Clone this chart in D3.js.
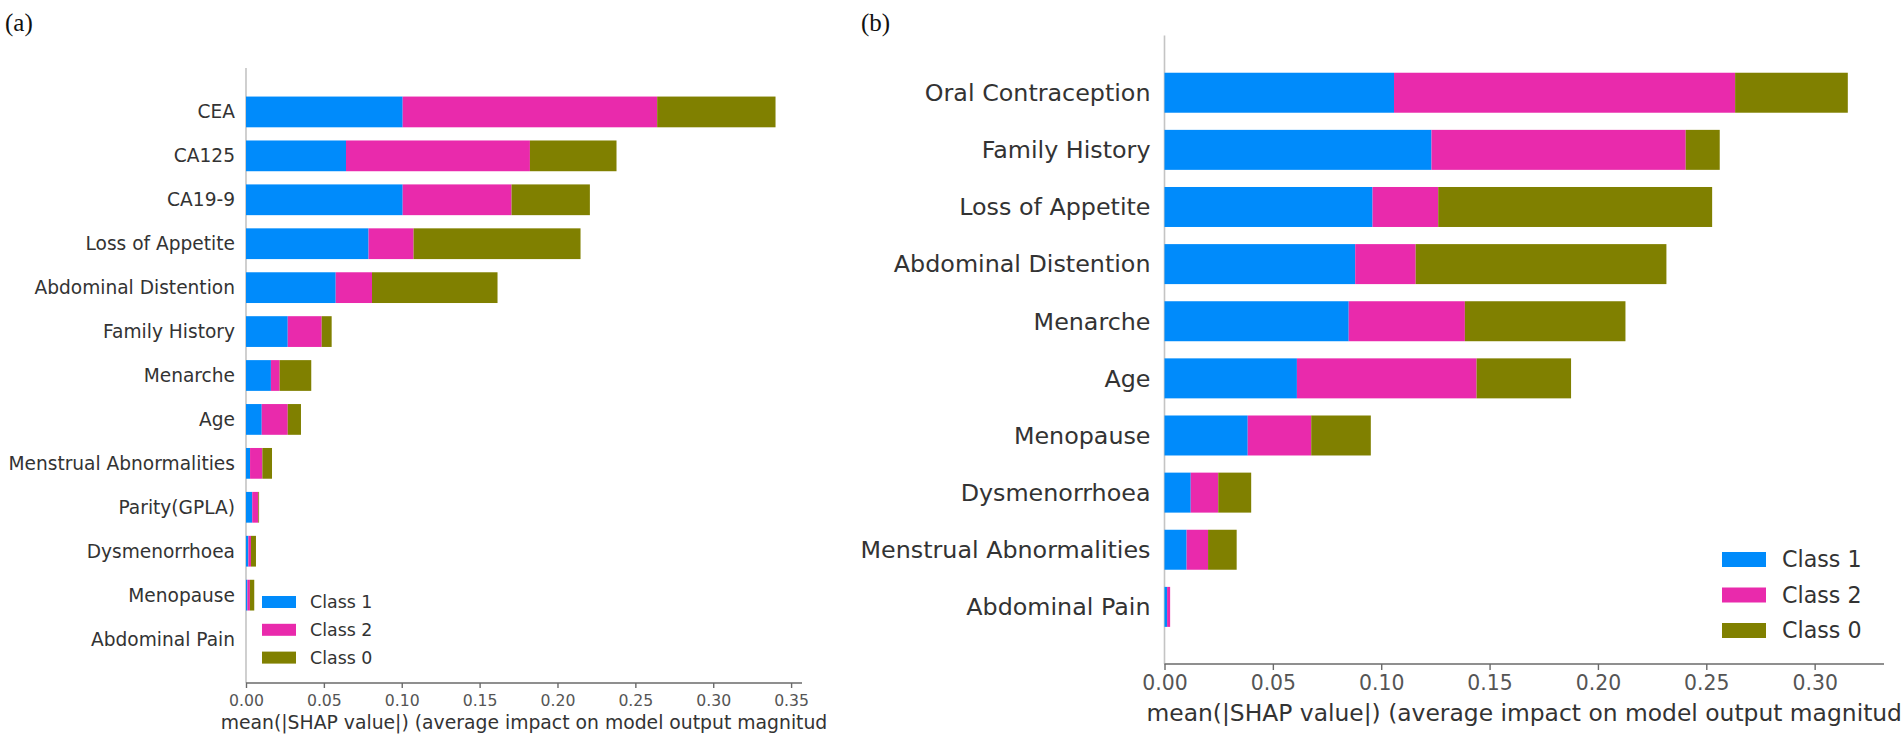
<!DOCTYPE html>
<html>
<head>
<meta charset="utf-8">
<script src="https://cdn.jsdelivr.net/npm/d3@7"></script>
<style>
  html, body { margin: 0; padding: 0; background: #fff; }
  svg { display: block; font-family: "DejaVu Sans", sans-serif; }
</style>
</head>
<body>
<svg id="chart" width="1904" height="742"></svg>
<script>
// panel (a) values
const featuresA = ["CEA", "CA125", "CA19-9", "Loss of Appetite", "Abdominal Distention",
  "Family History", "Menarche", "Age", "Menstrual Abnormalities", "Parity(GPLA)",
  "Dysmenorrhoea", "Menopause", "Abdominal Pain"];
const class1A = [0.1006, 0.0642, 0.1006, 0.0787, 0.0576, 0.0268, 0.0160, 0.0101, 0.0026, 0.0040, 0.0015, 0.0009, 0.0000];
const class2A = [0.1634, 0.1181, 0.0699, 0.0289, 0.0233, 0.0218, 0.0056, 0.0167, 0.0079, 0.0039, 0.0017, 0.0016, 0.0000];
const class0A = [0.0760, 0.0556, 0.0503, 0.1072, 0.0806, 0.0064, 0.0203, 0.0085, 0.0062, 0.0005, 0.0032, 0.0028, 0.0000];
const ticksA = [0, 0.05, 0.10, 0.15, 0.20, 0.25, 0.30, 0.35];

// panel (b) values
const featuresB = ["Oral Contraception", "Family History", "Loss of Appetite", "Abdominal Distention",
  "Menarche", "Age", "Menopause", "Dysmenorrhoea", "Menstrual Abnormalities", "Abdominal Pain"];
const class1B = [0.1059, 0.1232, 0.0960, 0.0880, 0.0850, 0.0611, 0.0384, 0.0121, 0.0102, 0.0012];
const class2B = [0.1574, 0.1173, 0.0303, 0.0279, 0.0536, 0.0829, 0.0293, 0.0127, 0.0099, 0.0014];
const class0B = [0.0520, 0.0157, 0.1264, 0.1157, 0.0741, 0.0436, 0.0275, 0.0152, 0.0132, 0.0000];
const ticksB = [0, 0.05, 0.10, 0.15, 0.20, 0.25, 0.30];

const classNames = ["Class 1", "Class 2", "Class 0"];
const classColors = ["#008bfb", "#e92aac", "#808000"];
const xTitle = "mean(|SHAP value|) (average impact on model output magnitud";

const svg = d3.select("#chart");

function drawPanel(opt) {
  const g = svg.append("g");
  const n = opt.features.length;

  const x = d3.scaleLinear().domain([0, opt.xmax]).range([opt.left, opt.right]);
  const y = d3.scaleLinear().domain([-1, n]).range([opt.top, opt.bottom]);
  const step = y(1) - y(0);
  const bh = step * 0.7;

  // stacked rows
  const rows = opt.features.map((f, i) => ({ f: f, i: i, v: [opt.c1[i], opt.c2[i], opt.c0[i]] }));
  const stack = d3.stack().keys([0, 1, 2]).value((d, k) => d.v[k]);
  const series = stack(rows);

  // vertical zero line
  g.append("line")
    .attr("x1", x(0)).attr("x2", x(0))
    .attr("y1", opt.top).attr("y2", opt.bottom)
    .attr("stroke", "#c4c4c4").attr("stroke-width", 1.6);

  series.forEach((s, k) => {
    g.append("g").selectAll("rect")
      .data(s)
      .join("rect")
      .attr("x", d => x(d[0]))
      .attr("width", d => Math.max(0, x(d[1]) - x(d[0])))
      .attr("y", d => y(d.data.i) - bh / 2)
      .attr("height", bh)
      .attr("fill", classColors[k]);
  });

  // feature names
  g.append("g").selectAll("text")
    .data(opt.features)
    .join("text")
    .attr("x", x(0) - opt.labelPad)
    .attr("y", (d, i) => y(i))
    .attr("dy", "0.35em")
    .attr("text-anchor", "end")
    .attr("font-size", opt.labelSize)
    .attr("fill", "#333")
    .text(d => d);

  // x axis
  const ax = g.append("g")
    .attr("transform", `translate(0,${opt.bottom})`)
    .call(d3.axisBottom(x).tickValues(opt.ticks).tickFormat(d3.format(".2f"))
      .tickSize(opt.tickLen).tickPadding(opt.tickPad).tickSizeOuter(0));
  ax.select(".domain").attr("stroke", "#6a6a6a").attr("stroke-width", 1.6)
    .attr("d", `M${x(0)},0H${opt.right}`);
  ax.selectAll(".tick line").attr("stroke", "#6a6a6a").attr("stroke-width", 1.4);
  ax.selectAll(".tick text").attr("font-size", opt.tickSize).attr("fill", "#555")
    .attr("font-family", "DejaVu Sans, sans-serif");

  g.append("text")
    .attr("x", (opt.left + opt.right) / 2)
    .attr("y", opt.titleY)
    .attr("text-anchor", "middle")
    .attr("font-size", opt.titleSize)
    .attr("fill", "#333")
    .text(xTitle);

  // legend
  const lg = g.append("g");
  classNames.forEach((c, k) => {
    const cy = opt.legY + k * opt.legStep;
    lg.append("rect")
      .attr("x", opt.legX).attr("y", cy - opt.legH / 2)
      .attr("width", opt.legW).attr("height", opt.legH)
      .attr("fill", classColors[k]);
    lg.append("text")
      .attr("x", opt.legX + opt.legW + opt.legGap)
      .attr("y", cy).attr("dy", "0.35em")
      .attr("font-size", opt.legSize)
      .attr("fill", "#333")
      .text(c);
  });

  svg.append("text")
    .attr("x", opt.tagX).attr("y", 31)
    .attr("font-family", "Liberation Serif, Times New Roman, serif")
    .attr("font-size", 25)
    .attr("fill", "#111")
    .text(opt.tag);
}

drawPanel({
  tag: "(a)", tagX: 5,
  features: featuresA, c1: class1A, c2: class2A, c0: class0A, ticks: ticksA,
  xmax: 0.357, left: 246, right: 802, top: 68, bottom: 683,
  labelSize: 18.6, labelPad: 11, tickSize: 15.7, tickLen: 5, tickPad: 6.5,
  titleSize: 18.8, titleY: 729,
  legX: 262, legY: 602, legStep: 27.8, legW: 34, legH: 12, legGap: 14, legSize: 17.4
});

drawPanel({
  tag: "(b)", tagX: 861,
  features: featuresB, c1: class1B, c2: class2B, c0: class0B, ticks: ticksB,
  xmax: 0.332, left: 1164.5, right: 1884, top: 35.6, bottom: 664,
  labelSize: 23.8, labelPad: 14, tickSize: 20.4, tickLen: 6, tickPad: 6,
  titleSize: 23.4, titleY: 721,
  legX: 1722, legY: 559.5, legStep: 35.5, legW: 44, legH: 15, legGap: 16, legSize: 22.2
});
</script>
</body>
</html>
